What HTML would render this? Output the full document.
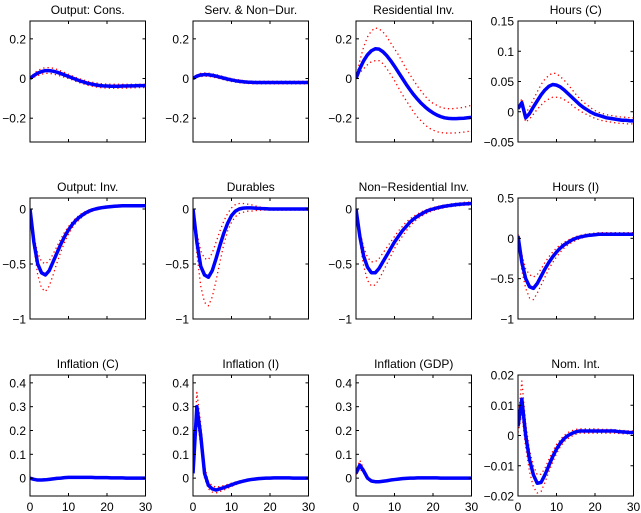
<!DOCTYPE html>
<html><head><meta charset="utf-8">
<style>
body{margin:0;background:#fff;}
svg{display:block;font-family:"Liberation Sans",Arial,sans-serif;}
</style></head>
<body>
<svg id="fig" width="641" height="513" viewBox="0 0 641 513" xmlns="http://www.w3.org/2000/svg"></svg>
<script>
const titles = ["Output: Cons.","Serv. & Non\u2212Dur.","Residential Inv.","Hours (C)","Output: Inv.","Durables","Non\u2212Residential Inv.","Hours (I)","Inflation (C)","Inflation (I)","Inflation (GDP)","Nom. Int."];
const xTicks = [0,10,20,30];
const ylims = [[-0.32,0.29],[-0.32,0.29],[-0.32,0.29],[-0.05,0.15],[-1,0.1],[-1,0.1],[-1,0.1],[-1,0.5],[-0.075,0.433],[-0.075,0.433],[-0.075,0.433],[-0.02,0.02]];
const yTicks = [[-0.2,0,0.2],[-0.2,0,0.2],[-0.2,0,0.2],[-0.05,0,0.05,0.1,0.15],[-1,-0.5,0],[-1,-0.5,0],[-1,-0.5,0],[-1,-0.5,0,0.5],[0,0.1,0.2,0.3,0.4],[0,0.1,0.2,0.3,0.4],[0,0.1,0.2,0.3,0.4],[-0.02,-0.01,0,0.01,0.02]];
const yTickLabels = [["\u22120.2","0","0.2"],["\u22120.2","0","0.2"],["\u22120.2","0","0.2"],["\u22120.05","0","0.05","0.1","0.15"],["\u22121","\u22120.5","0"],["\u22121","\u22120.5","0"],["\u22121","\u22120.5","0"],["\u22121","\u22120.5","0","0.5"],["0","0.1","0.2","0.3","0.4"],["0","0.1","0.2","0.3","0.4"],["0","0.1","0.2","0.3","0.4"],["\u22120.02","\u22120.01","0","0.01","0.02"]];

const med = [
[0,0.015,0.027,0.035,0.04,0.04,0.037,0.032,0.025,0.018,0.01,0.003,-0.005,-0.012,-0.018,-0.024,-0.028,-0.032,-0.035,-0.037,-0.038,-0.039,-0.039,-0.039,-0.038,-0.038,-0.037,-0.037,-0.036,-0.036,-0.036],
[0,0.012,0.018,0.02,0.019,0.016,0.012,0.007,0.002,-0.003,-0.007,-0.011,-0.014,-0.016,-0.018,-0.019,-0.02,-0.02,-0.02,-0.02,-0.02,-0.02,-0.02,-0.02,-0.02,-0.02,-0.02,-0.02,-0.02,-0.02,-0.02],
[0,0.05,0.09,0.12,0.14,0.15,0.148,0.135,0.115,0.09,0.062,0.032,0.002,-0.028,-0.056,-0.082,-0.105,-0.126,-0.144,-0.16,-0.173,-0.184,-0.192,-0.198,-0.201,-0.202,-0.202,-0.201,-0.2,-0.198,-0.196],
[0.005,0.015,-0.01,-0.003,0.008,0.018,0.028,0.036,0.042,0.045,0.044,0.041,0.036,0.03,0.024,0.018,0.012,0.007,0.003,-0.001,-0.004,-0.006,-0.008,-0.01,-0.011,-0.012,-0.013,-0.014,-0.014,-0.015,-0.015],
[0,-0.3,-0.5,-0.58,-0.6,-0.56,-0.48,-0.4,-0.32,-0.25,-0.19,-0.14,-0.1,-0.07,-0.045,-0.025,-0.01,0,0.008,0.014,0.018,0.022,0.025,0.027,0.03,0.03,0.03,0.03,0.03,0.03,0.03],
[0,-0.3,-0.52,-0.6,-0.62,-0.56,-0.45,-0.33,-0.22,-0.13,-0.06,-0.02,0,0.008,0.01,0.01,0.008,0.006,0.004,0.002,0,0,0,0,0,0,0,0,0,0,0],
[0,-0.25,-0.43,-0.53,-0.58,-0.58,-0.54,-0.48,-0.42,-0.36,-0.3,-0.25,-0.2,-0.16,-0.12,-0.09,-0.065,-0.045,-0.025,-0.01,0,0.01,0.018,0.025,0.03,0.035,0.04,0.043,0.046,0.048,0.05],
[0.03,-0.3,-0.5,-0.6,-0.62,-0.56,-0.47,-0.38,-0.3,-0.23,-0.17,-0.12,-0.08,-0.05,-0.02,0,0.015,0.025,0.035,0.04,0.045,0.05,0.05,0.05,0.05,0.05,0.05,0.05,0.05,0.05,0.05],
[0,-0.005,-0.008,-0.008,-0.007,-0.005,-0.003,-0.001,0,0.002,0.003,0.003,0.003,0.003,0.003,0.003,0.003,0.002,0.002,0.002,0.002,0.001,0.001,0.001,0.001,0,0,0,0,0,0],
[0.02,0.3,0.18,0.02,-0.03,-0.045,-0.05,-0.045,-0.04,-0.034,-0.028,-0.022,-0.017,-0.013,-0.009,-0.006,-0.004,-0.002,-0.001,0,0,0.001,0.001,0.001,0.001,0.001,0,0,0,0,0],
[0.02,0.055,0.03,0,-0.012,-0.015,-0.015,-0.013,-0.011,-0.008,-0.006,-0.004,-0.002,-0.001,0,0,0.001,0.001,0.001,0.001,0.001,0.001,0,0,0,0,0,0,0,0,0],
[0.003,0.012,0,-0.008,-0.013,-0.0158,-0.0155,-0.013,-0.01,-0.007,-0.0045,-0.0025,-0.001,0,0.0007,0.0012,0.0015,0.0015,0.0015,0.0015,0.0015,0.0015,0.0015,0.0015,0.0015,0.0015,0.0013,0.0012,0.0011,0.001,0.001]
];
const hi = [
[0,0.025,0.04,0.05,0.055,0.055,0.052,0.046,0.038,0.03,0.021,0.013,0.005,-0.002,-0.008,-0.014,-0.018,-0.022,-0.025,-0.027,-0.028,-0.029,-0.029,-0.029,-0.029,-0.029,-0.029,-0.029,-0.029,-0.029,-0.029],
[0,0.018,0.026,0.028,0.027,0.024,0.02,0.015,0.009,0.004,0,-0.004,-0.007,-0.01,-0.012,-0.013,-0.014,-0.014,-0.014,-0.014,-0.014,-0.014,-0.014,-0.014,-0.014,-0.014,-0.014,-0.014,-0.014,-0.014,-0.014],
[0,0.09,0.16,0.21,0.24,0.255,0.25,0.235,0.21,0.18,0.15,0.12,0.085,0.05,0.02,-0.01,-0.04,-0.065,-0.09,-0.11,-0.125,-0.135,-0.145,-0.15,-0.152,-0.152,-0.15,-0.148,-0.145,-0.14,-0.135],
[0.005,0.022,-0.003,0.008,0.02,0.033,0.045,0.054,0.06,0.064,0.063,0.058,0.052,0.045,0.037,0.029,0.022,0.016,0.011,0.006,0.002,-0.001,-0.003,-0.005,-0.006,-0.007,-0.008,-0.009,-0.009,-0.01,-0.01],
[0,-0.25,-0.4,-0.48,-0.5,-0.47,-0.41,-0.34,-0.27,-0.21,-0.16,-0.115,-0.08,-0.05,-0.03,-0.012,0,0.01,0.018,0.024,0.028,0.032,0.035,0.037,0.04,0.04,0.04,0.04,0.04,0.04,0.04],
[0,-0.22,-0.38,-0.45,-0.46,-0.4,-0.3,-0.2,-0.11,-0.04,0.01,0.04,0.05,0.05,0.045,0.04,0.03,0.02,0.015,0.01,0.005,0,-0.005,-0.005,-0.005,-0.005,-0.005,-0.005,-0.005,-0.005,-0.005],
[0,-0.2,-0.35,-0.44,-0.48,-0.48,-0.45,-0.4,-0.35,-0.3,-0.25,-0.2,-0.16,-0.12,-0.09,-0.065,-0.045,-0.025,-0.01,0.003,0.013,0.022,0.03,0.037,0.043,0.048,0.052,0.056,0.06,0.062,0.065],
[0.05,-0.2,-0.38,-0.45,-0.48,-0.45,-0.38,-0.3,-0.23,-0.17,-0.12,-0.08,-0.05,-0.02,0,0.02,0.035,0.045,0.055,0.06,0.065,0.07,0.07,0.07,0.07,0.07,0.07,0.07,0.07,0.07,0.07],
[0,-0.002,-0.004,-0.004,-0.003,-0.001,0.001,0.003,0.004,0.005,0.005,0.005,0.005,0.005,0.005,0.005,0.004,0.004,0.004,0.003,0.003,0.003,0.002,0.002,0.002,0.002,0.001,0.001,0.001,0.001,0.001],
[0.03,0.36,0.23,0.05,-0.015,-0.032,-0.038,-0.035,-0.031,-0.026,-0.021,-0.016,-0.012,-0.009,-0.006,-0.004,-0.002,-0.001,0,0.001,0.001,0.002,0.002,0.002,0.002,0.002,0.001,0.001,0.001,0.001,0.001],
[0.025,0.075,0.04,0.006,-0.007,-0.011,-0.011,-0.01,-0.008,-0.006,-0.004,-0.002,-0.001,0,0.001,0.001,0.002,0.002,0.002,0.002,0.002,0.002,0.001,0.001,0.001,0.001,0.001,0.001,0.001,0.001,0.001],
[0.005,0.018,0.004,-0.005,-0.01,-0.013,-0.0128,-0.0108,-0.008,-0.0053,-0.003,-0.0013,0,0.001,0.0016,0.002,0.0022,0.0022,0.0022,0.0022,0.0022,0.0021,0.002,0.002,0.002,0.0019,0.0018,0.0017,0.0016,0.0015,0.0015]
];
const lo = [
[0,0.006,0.015,0.022,0.026,0.026,0.023,0.018,0.012,0.006,0,-0.007,-0.015,-0.022,-0.028,-0.034,-0.038,-0.042,-0.045,-0.047,-0.048,-0.049,-0.049,-0.049,-0.048,-0.048,-0.047,-0.047,-0.046,-0.046,-0.046],
[0,0.006,0.01,0.012,0.011,0.008,0.004,-0.001,-0.006,-0.011,-0.015,-0.018,-0.021,-0.023,-0.025,-0.026,-0.027,-0.027,-0.027,-0.027,-0.027,-0.027,-0.027,-0.027,-0.027,-0.027,-0.027,-0.027,-0.027,-0.027,-0.027],
[0,0.03,0.05,0.07,0.085,0.09,0.09,0.075,0.05,0.02,-0.01,-0.045,-0.08,-0.11,-0.14,-0.17,-0.195,-0.215,-0.235,-0.25,-0.26,-0.268,-0.272,-0.275,-0.275,-0.275,-0.274,-0.272,-0.27,-0.267,-0.265],
[0.005,0.008,-0.017,-0.012,-0.004,0.004,0.011,0.017,0.021,0.024,0.024,0.023,0.02,0.016,0.011,0.006,0.002,-0.002,-0.005,-0.008,-0.011,-0.013,-0.015,-0.016,-0.017,-0.018,-0.019,-0.019,-0.02,-0.02,-0.02],
[0,-0.35,-0.6,-0.72,-0.75,-0.7,-0.6,-0.49,-0.39,-0.3,-0.23,-0.17,-0.125,-0.09,-0.06,-0.04,-0.022,-0.01,0,0.006,0.01,0.014,0.017,0.019,0.02,0.02,0.02,0.02,0.02,0.02,0.02],
[0,-0.4,-0.7,-0.85,-0.88,-0.8,-0.65,-0.48,-0.32,-0.2,-0.12,-0.07,-0.04,-0.03,-0.02,-0.02,-0.015,-0.012,-0.01,-0.01,-0.01,-0.01,-0.01,-0.01,-0.01,-0.01,-0.01,-0.01,-0.01,-0.01,-0.01],
[0,-0.3,-0.52,-0.65,-0.7,-0.69,-0.64,-0.57,-0.5,-0.43,-0.36,-0.3,-0.25,-0.2,-0.16,-0.12,-0.09,-0.065,-0.045,-0.028,-0.015,-0.005,0.004,0.012,0.018,0.023,0.027,0.031,0.034,0.036,0.038],
[0,-0.4,-0.62,-0.74,-0.76,-0.68,-0.58,-0.48,-0.38,-0.3,-0.23,-0.17,-0.12,-0.08,-0.05,-0.025,-0.005,0.01,0.02,0.028,0.034,0.038,0.04,0.04,0.04,0.04,0.04,0.04,0.04,0.04,0.04],
[0,-0.008,-0.011,-0.011,-0.01,-0.008,-0.006,-0.004,-0.003,-0.001,0,0,0,0,0,0,0,0,0,0,0,-0.001,-0.001,-0.001,-0.001,-0.001,-0.001,-0.001,-0.001,-0.001,-0.001],
[0.01,0.25,0.14,0,-0.045,-0.058,-0.062,-0.056,-0.05,-0.042,-0.035,-0.028,-0.022,-0.017,-0.012,-0.008,-0.006,-0.004,-0.003,-0.002,-0.001,0,0,0,0,0,-0.001,-0.001,-0.001,-0.001,-0.001],
[0.015,0.04,0.02,-0.006,-0.017,-0.019,-0.019,-0.016,-0.014,-0.011,-0.008,-0.006,-0.004,-0.002,-0.001,-0.001,0,0,0,0,0,0,-0.001,-0.001,-0.001,-0.001,-0.001,-0.001,-0.001,-0.001,-0.001],
[0.001,0.007,-0.004,-0.012,-0.017,-0.019,-0.0185,-0.0155,-0.012,-0.0088,-0.006,-0.0037,-0.002,-0.001,-0.0002,0.0004,0.0008,0.0008,0.0008,0.0008,0.0008,0.0008,0.0008,0.0008,0.0008,0.0008,0.0007,0.0006,0.0006,0.0005,0.0005]
];

const NS = "http://www.w3.org/2000/svg";
const svg = document.getElementById('fig');
const colLeft = [30,193,356,518], rowTop = [21,198,375], PW = 115.5, PH = 121;
function mk(tag, attrs, parent){ const e=document.createElementNS(NS,tag); for(const k in attrs) e.setAttribute(k,attrs[k]); (parent||svg).appendChild(e); return e; }

for(let p=0;p<12;p++){
  const r=Math.floor(p/4), c=p%4;
  const L=colLeft[c], T=rowTop[r];
  const [y0,y1]=ylims[p];
  const xs=v=>L+v/30*PW;
  const ys=v=>T+(y1-v)/(y1-y0)*PH;
  const g=mk('g',{});
  
  
  const cp=mk('clipPath',{id:'cp'+p},g);
  mk('rect',{x:L,y:T,width:PW,height:PH},cp);
  const t=mk('text',{x:L+PW/2,y:T-7,'text-anchor':'middle','font-size':'12'},g);
  t.textContent=titles[p];
  
  
  const lines=mk('g',{'clip-path':'url(#cp'+p+')'},g);
  function path(arr, stroke, w, dash, nm){
    let d='';
    arr.forEach((v,i)=>{ d+=(i?'L':'M')+xs(i).toFixed(2)+','+ys(v).toFixed(2); });
    const e=mk('path',{d:d,fill:'none',stroke:stroke,'stroke-width':w,'stroke-linejoin':'round'},lines);
    if(dash) e.setAttribute('stroke-dasharray',dash);
    
    
  }
  path(hi[p],'#ff0000',1.3,'1.3,3','upper-band');
  path(lo[p],'#ff0000',1.3,'1.3,3','lower-band');
  path(med[p],'#0000ff',3.5,null,'median-line');
  const box=mk('rect',{x:L,y:T,width:PW,height:PH,fill:'none',stroke:'#000','stroke-width':1},g);
  
  
  xTicks.forEach(v=>{
    const x=xs(v);
    mk('line',{x1:x,x2:x,y1:T+PH,y2:T+PH-3,stroke:'#000','stroke-width':1},g);
    mk('line',{x1:x,x2:x,y1:T,y2:T+3,stroke:'#000','stroke-width':1},g);
    if(r===2){
      const tl=mk('text',{x:x,y:T+PH+15,'text-anchor':'middle','font-size':'12'},g);
      tl.textContent=String(v);
      
      
    }
  });
  yTicks[p].forEach((v,i)=>{
    const y=ys(v);
    mk('line',{x1:L,x2:L+3,y1:y,y2:y,stroke:'#000','stroke-width':1},g);
    mk('line',{x1:L+PW,x2:L+PW-3,y1:y,y2:y,stroke:'#000','stroke-width':1},g);
    const tl=mk('text',{x:L-4,y:y+4.5,'text-anchor':'end','font-size':'12'},g);
    tl.textContent=yTickLabels[p][i];
    
    
  });
}
</script>
</body></html>
